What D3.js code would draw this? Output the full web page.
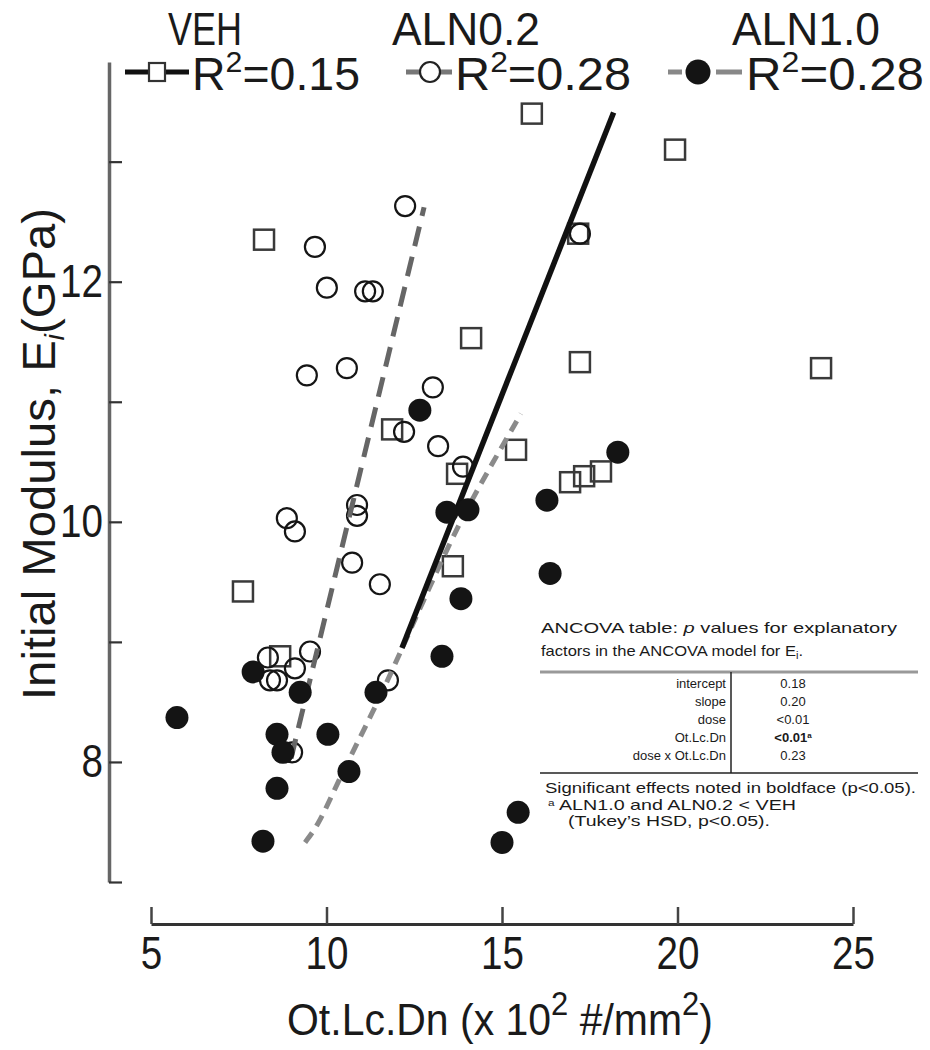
<!DOCTYPE html>
<html>
<head>
<meta charset="utf-8">
<script src="https://cdn.jsdelivr.net/npm/d3@7"></script>
<style>
  body { margin: 0; background: #fff; }
  svg { display: block; }
  text { font-family: "Liberation Sans", Arial, Helvetica, sans-serif; fill: #1a1a1a; }
</style>
</head>
<body>
<svg id="chart" width="930" height="1050"></svg>
<script>
/* Initial modulus vs Ot.Lc.Dn — three dose groups */

// VEH (open squares)
const vehX = [7.62, 8.22, 15.85, 19.93, 24.09, 17.17, 14.12, 17.22, 11.87, 15.40, 13.72, 16.94, 17.34, 17.82, 13.60, 8.68];
const vehY = [9.42, 12.35, 13.40, 13.10, 11.28, 12.40, 11.53, 11.33, 10.77, 10.60, 10.40, 10.33, 10.38, 10.42, 9.63, 8.88];

// ALN0.2 (open circles)
const aln02X = [12.24, 9.67, 10.01, 11.10, 11.32, 17.22, 9.44, 10.58, 13.03, 12.21, 13.18, 13.89, 8.87, 9.10, 10.87, 10.87, 10.73, 11.52, 8.33, 9.53, 9.10, 8.39, 8.59, 11.75, 9.02];
const aln02Y = [12.63, 12.29, 11.95, 11.92, 11.92, 12.40, 11.22, 11.28, 11.12, 10.75, 10.63, 10.46, 10.03, 9.92, 10.14, 10.05, 9.66, 9.48, 8.87, 8.92, 8.78, 8.68, 8.68, 8.68, 8.08];

// ALN1.0 (filled circles)
const aln10X = [12.66, 13.43, 14.03, 16.28, 18.30, 16.37, 13.83, 13.29, 11.41, 7.91, 9.25, 8.59, 8.76, 10.04, 10.64, 8.59, 8.19, 15.00, 15.46, 5.74];
const aln10Y = [10.93, 10.08, 10.10, 10.18, 10.58, 9.57, 9.36, 8.88, 8.58, 8.75, 8.58, 8.23, 8.08, 8.23, 7.92, 7.78, 7.34, 7.33, 7.58, 8.37];

// regression lines as drawn
const vehFitX = [12.15, 18.18];
const vehFitY = [8.95, 13.41];
const aln02FitX = [8.99, 12.78];
const aln02FitY = [8.03, 12.62];
const aln10FitX = [9.39, 9.75, 10.12, 10.60, 11.40, 12.10, 13.03, 13.90, 14.75, 15.54];
const aln10FitY = [7.33, 7.47, 7.70, 8.00, 8.46, 8.91, 9.52, 10.06, 10.50, 10.90];

const groups = ['VEH', 'ALN0.2', 'ALN1.0'];
const rSquared = ['0.15', '0.28', '0.28'];

const xTicks = [5, 10, 15, 20, 25];
const yTicks = [7, 8, 9, 10, 11, 12, 13];
const yLabelTicks = [8, 10, 12];

const ancovaTerms = ['intercept', 'slope', 'dose', 'Ot.Lc.Dn', 'dose x Ot.Lc.Dn'];
const ancovaP = ['0.18', '0.20', '<0.01', '<0.01', '0.23'];
const ancovaBold = [false, false, false, true, false];

const svg = d3.select('#chart');
const x = d3.scaleLinear().domain([5, 25]).range([151, 853]);
const y = d3.scaleLinear().domain([7, 13.83]).range([882, 62]);

const zip = (xs, ys) => xs.map((v, i) => [v, ys[i]]);
const SQUEEZE = 0.84;

function renderAxes() {
  const gy = svg.append('g')
    .attr('transform', 'translate(109,0)')
    .call(d3.axisLeft(y).tickValues(yTicks).tickSize(-13).tickSizeOuter(0).tickPadding(6)
      .tickFormat(d => yLabelTicks.includes(d) ? d : ''));
  gy.select('.domain').attr('stroke', '#666').attr('stroke-width', 3.5);
  gy.selectAll('.tick line').attr('stroke', '#333').attr('stroke-width', 2.2);
  gy.selectAll('.tick text').style('font-size', '46px').attr('fill', '#1a1a1a')
    .attr('x', -6 / SQUEEZE).attr('transform', `scale(${SQUEEZE},1)`);

  const gx = svg.append('g')
    .attr('transform', 'translate(0,924)')
    .call(d3.axisBottom(x).tickValues(xTicks).tickSize(-17).tickSizeOuter(0).tickPadding(12));
  gx.select('.domain').attr('stroke', '#333').attr('stroke-width', 3);
  gx.selectAll('.tick line').attr('stroke', '#444').attr('stroke-width', 2.5);
  gx.selectAll('.tick text').style('font-size', '46px').attr('fill', '#1a1a1a')
    .attr('transform', `scale(${SQUEEZE},1)`);

  // x title
  const xt = svg.append('text').attr('x', 287).attr('y', 1035)
    .style('font-size', '45px').attr('textLength', 426).attr('lengthAdjust', 'spacingAndGlyphs');
  xt.append('tspan').text('Ot.Lc.Dn (x 10');
  xt.append('tspan').attr('dy', -20).style('font-size', '34px').text('2');
  xt.append('tspan').attr('dy', 20).text(' #/mm');
  xt.append('tspan').attr('dy', -20).style('font-size', '34px').text('2');
  xt.append('tspan').attr('dy', 20).text(')');

  // y title
  const yt = svg.append('text').attr('transform', 'translate(55,700) rotate(-90)')
    .style('font-size', '46px').attr('textLength', 492).attr('lengthAdjust', 'spacingAndGlyphs');
  yt.append('tspan').text('Initial Modulus, E');
  yt.append('tspan').attr('dy', 9).style('font-size', '28px').style('font-style', 'italic').text('i');
  yt.append('tspan').attr('dy', -9).text('(GPa)');
}

function renderMarks() {
  const sq = 20;
  svg.append('g').selectAll('rect')
    .data(zip(vehX, vehY)).join('rect')
    .attr('x', d => x(d[0]) - sq / 2).attr('y', d => y(d[1]) - sq / 2)
    .attr('width', sq).attr('height', sq)
    .attr('fill', 'none').attr('stroke', '#3a3a3a').attr('stroke-width', 2.5);

  svg.append('g').selectAll('circle')
    .data(zip(aln02X, aln02Y)).join('circle')
    .attr('cx', d => x(d[0])).attr('cy', d => y(d[1])).attr('r', 10)
    .attr('fill', 'none').attr('stroke', '#151515').attr('stroke-width', 2.2);

  const line = d3.line().x(d => x(d[0])).y(d => y(d[1]));

  svg.append('path').datum(zip(aln02FitX, aln02FitY))
    .attr('d', line).attr('fill', 'none')
    .attr('stroke', '#666').attr('stroke-width', 5).attr('stroke-dasharray', '20 11');

  svg.append('path').datum(zip(aln10FitX, aln10FitY))
    .attr('d', line.curve(d3.curveBasis)).attr('fill', 'none')
    .attr('stroke', '#8a8a8a').attr('stroke-width', 5).attr('stroke-dasharray', '12 8');

  svg.append('path').datum(zip(vehFitX, vehFitY))
    .attr('d', d3.line().x(d => x(d[0])).y(d => y(d[1]))).attr('fill', 'none')
    .attr('stroke', '#111').attr('stroke-width', 5.5);

  svg.append('g').selectAll('circle')
    .data(zip(aln10X, aln10Y)).join('circle')
    .attr('cx', d => x(d[0])).attr('cy', d => y(d[1])).attr('r', 11.5)
    .attr('fill', '#141414');
}

function renderLegend() {
  const titleX = [168, 392, 732];
  const titleW = [74, 148, 148];
  groups.forEach((g, i) => {
    svg.append('text').attr('x', titleX[i]).attr('y', 45)
      .style('font-size', '46px')
      .attr('textLength', titleW[i]).attr('lengthAdjust', 'spacingAndGlyphs').text(g);
  });

  const ly = 72;
  // VEH
  svg.append('line').attr('x1', 125).attr('x2', 189).attr('y1', ly).attr('y2', ly)
    .attr('stroke', '#111').attr('stroke-width', 5);
  svg.append('rect').attr('x', 149).attr('y', ly - 9).attr('width', 16).attr('height', 18)
    .attr('fill', '#fff').attr('stroke', '#333').attr('stroke-width', 2.2);
  // ALN0.2
  svg.append('line').attr('x1', 406).attr('x2', 452).attr('y1', ly).attr('y2', ly)
    .attr('stroke', '#777').attr('stroke-width', 5);
  svg.append('circle').attr('cx', 430).attr('cy', ly).attr('r', 10)
    .attr('fill', '#fff').attr('stroke', '#222').attr('stroke-width', 2.2);
  // ALN1.0
  svg.append('line').attr('x1', 668).attr('x2', 682).attr('y1', ly).attr('y2', ly)
    .attr('stroke', '#888').attr('stroke-width', 5);
  svg.append('line').attr('x1', 716).attr('x2', 742).attr('y1', ly).attr('y2', ly)
    .attr('stroke', '#888').attr('stroke-width', 5);
  svg.append('circle').attr('cx', 698).attr('cy', ly).attr('r', 12.5).attr('fill', '#141414');

  const textX = [192, 455, 746];
  const textW = [168, 176, 178];
  rSquared.forEach((r, i) => {
    const t = svg.append('text').attr('x', textX[i]).attr('y', 90).style('font-size', '46px')
      .attr('textLength', textW[i]).attr('lengthAdjust', 'spacingAndGlyphs');
    t.append('tspan').text('R');
    t.append('tspan').attr('dy', -18).style('font-size', '30px').text('2');
    t.append('tspan').attr('dy', 18).text('=' + r);
  });
}

function renderTable() {
  const g = svg.append('g');
  const h1 = g.append('text').attr('x', 541).attr('y', 633).style('font-size', '15px')
    .attr('textLength', 356).attr('lengthAdjust', 'spacingAndGlyphs');
  h1.append('tspan').text('ANCOVA table: ');
  h1.append('tspan').style('font-style', 'italic').text('p');
  h1.append('tspan').text(' values for explanatory');

  const h2 = g.append('text').attr('x', 541).attr('y', 656).style('font-size', '15px')
    .attr('textLength', 262).attr('lengthAdjust', 'spacingAndGlyphs');
  h2.append('tspan').text('factors in the ANCOVA model for E');
  h2.append('tspan').attr('dy', 3).style('font-size', '10px').text('i');
  h2.append('tspan').attr('dy', -3).text('.');

  g.append('line').attr('x1', 540).attr('x2', 918).attr('y1', 672).attr('y2', 672)
    .attr('stroke', '#999').attr('stroke-width', 3);
  g.append('line').attr('x1', 540).attr('x2', 918).attr('y1', 773).attr('y2', 773)
    .attr('stroke', '#222').attr('stroke-width', 1.5);
  g.append('line').attr('x1', 731).attr('x2', 731).attr('y1', 672).attr('y2', 773)
    .attr('stroke', '#222').attr('stroke-width', 1.5);

  const rowY = d3.scalePoint().domain(ancovaTerms).range([688, 760]);
  ancovaTerms.forEach((term, i) => {
    g.append('text').attr('x', 726).attr('y', rowY(term))
      .attr('text-anchor', 'end').style('font-size', '13px').text(term);
    const v = g.append('text').attr('x', 793).attr('y', rowY(term))
      .attr('text-anchor', 'middle').style('font-size', '13px')
      .style('font-weight', ancovaBold[i] ? 'bold' : 'normal');
    v.append('tspan').text(ancovaP[i]);
    if (ancovaBold[i]) v.append('tspan').attr('dy', -4).style('font-size', '8px').text('a');
  });

  g.append('text').attr('x', 545).attr('y', 793).style('font-size', '15px')
    .attr('textLength', 371).attr('lengthAdjust', 'spacingAndGlyphs')
    .text('Significant effects noted in boldface (p<0.05).');
  const n1 = g.append('text').attr('x', 548).attr('y', 810).style('font-size', '15px')
    .attr('textLength', 248).attr('lengthAdjust', 'spacingAndGlyphs');
  n1.append('tspan').attr('dy', -4).style('font-size', '9px').text('a');
  n1.append('tspan').attr('dy', 4).text(' ALN1.0 and ALN0.2 < VEH');
  g.append('text').attr('x', 568).attr('y', 826).style('font-size', '15px')
    .attr('textLength', 202).attr('lengthAdjust', 'spacingAndGlyphs')
    .text('(Tukey\u2019s HSD, p<0.05).');
}

renderAxes();
renderMarks();
renderLegend();
renderTable();
</script>
</body>
</html>
